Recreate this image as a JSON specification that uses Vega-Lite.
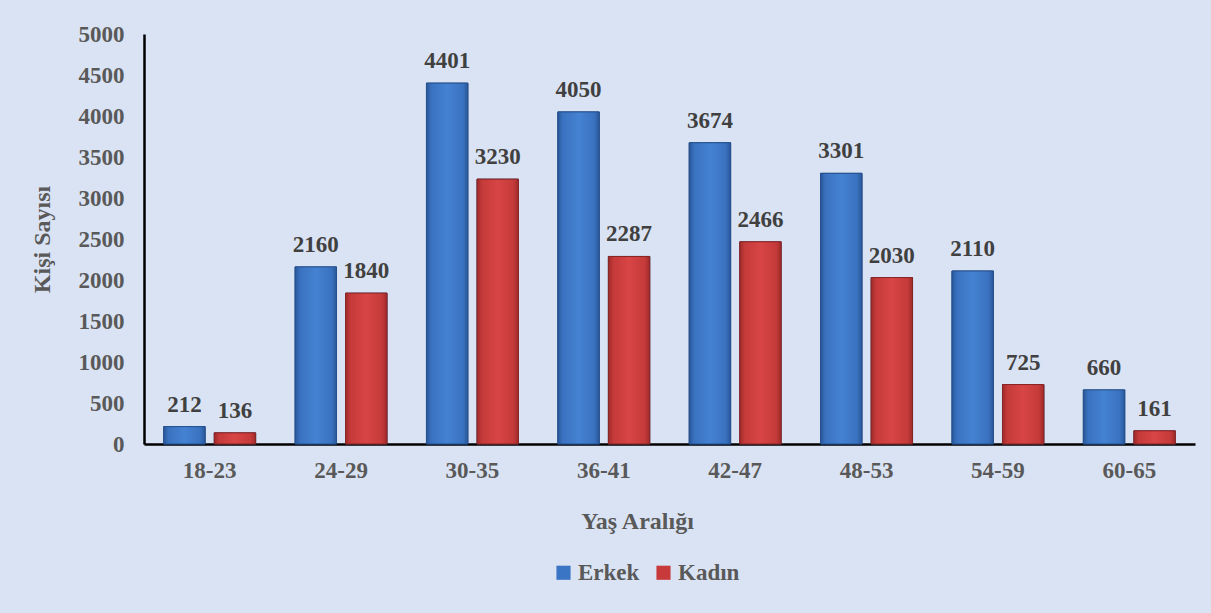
{
  "$schema": "https://vega.github.io/schema/vega-lite/v6.json",
  "autosize": "none",
  "width": 1051,
  "height": 410,
  "padding": {"left": 144, "top": 34, "right": 16, "bottom": 169},
  "background": "#dae3f3",
  "config": {
    "view": {"stroke": null},
    "font": "Liberation Serif"
  },
  "data": {
    "values": [
      {"yas": "18-23", "cinsiyet": "Erkek", "sayi": 212},
      {"yas": "18-23", "cinsiyet": "Kadın", "sayi": 136},
      {"yas": "24-29", "cinsiyet": "Erkek", "sayi": 2160},
      {"yas": "24-29", "cinsiyet": "Kadın", "sayi": 1840},
      {"yas": "30-35", "cinsiyet": "Erkek", "sayi": 4401},
      {"yas": "30-35", "cinsiyet": "Kadın", "sayi": 3230},
      {"yas": "36-41", "cinsiyet": "Erkek", "sayi": 4050},
      {"yas": "36-41", "cinsiyet": "Kadın", "sayi": 2287},
      {"yas": "42-47", "cinsiyet": "Erkek", "sayi": 3674},
      {"yas": "42-47", "cinsiyet": "Kadın", "sayi": 2466},
      {"yas": "48-53", "cinsiyet": "Erkek", "sayi": 3301},
      {"yas": "48-53", "cinsiyet": "Kadın", "sayi": 2030},
      {"yas": "54-59", "cinsiyet": "Erkek", "sayi": 2110},
      {"yas": "54-59", "cinsiyet": "Kadın", "sayi": 725},
      {"yas": "60-65", "cinsiyet": "Erkek", "sayi": 660},
      {"yas": "60-65", "cinsiyet": "Kadın", "sayi": 161}
    ]
  },
  "encoding": {
    "x": {
      "field": "yas", "type": "nominal", "sort": null,
      "scale": {"paddingInner": 0.3, "paddingOuter": 0.15},
      "axis": {
        "title": "Yaş Aralığı", "labelAngle": 0, "ticks": false,
        "domainColor": "#000000", "domainWidth": 2.5,
        "labelFont": "Liberation Serif", "labelFontSize": 23, "labelFontWeight": "bold", "labelColor": "#595959",
        "labelPadding": 15,
        "titleFont": "Liberation Serif", "titleFontSize": 24, "titleFontWeight": "bold", "titleColor": "#595959",
        "titlePadding": 27, "titleX": 493
      }
    },
    "xOffset": {"field": "cinsiyet", "type": "nominal", "sort": ["Erkek", "Kadın"], "scale": {"paddingInner": 0.18, "paddingOuter": 0}},
    "y": {
      "field": "sayi", "type": "quantitative",
      "scale": {"domain": [0, 5000], "nice": false},
      "axis": {
        "title": "Kişi Sayısı", "values": [0, 500, 1000, 1500, 2000, 2500, 3000, 3500, 4000, 4500, 5000],
        "grid": false, "ticks": false, "format": "d",
        "domainColor": "#000000", "domainWidth": 2.5,
        "labelFont": "Liberation Serif", "labelFontSize": 23, "labelFontWeight": "bold", "labelColor": "#595959",
        "labelPadding": 20,
        "titleFont": "Liberation Serif", "titleFontSize": 24, "titleFontWeight": "bold", "titleColor": "#595959",
        "titlePadding": 24
      }
    }
  },
  "layer": [
    {
      "mark": {"type": "bar", "stroke": "#1f3f70", "strokeWidth": 0.8},
      "encoding": {
        "color": {
          "field": "cinsiyet", "type": "nominal", "sort": ["Erkek", "Kadın"],
          "scale": {"domain": ["Erkek", "Kadın"], "range": ["#3a74c4", "#c83a3a"]},
          "legend": {
            "title": null, "orient": "none", "legendX": 408, "legendY": 527, "direction": "horizontal",
            "symbolType": "square", "symbolSize": 200, "symbolStrokeWidth": 0,
            "labelFont": "Liberation Serif", "labelFontSize": 23, "labelFontWeight": "bold", "labelColor": "#595959",
            "labelOffset": 3, "columnPadding": 12
          }
        }
      }
    },
    {
      "transform": [{"filter": "datum.cinsiyet === 'Erkek'"}],
      "mark": {
        "type": "bar", "stroke": "#23508f", "strokeWidth": 1,
        "fill": {"gradient": "linear", "x1": 0, "y1": 0, "x2": 1, "y2": 0,
          "stops": [
            {"offset": 0, "color": "#2a5799"},
            {"offset": 0.12, "color": "#3a72c0"},
            {"offset": 0.5, "color": "#4582d2"},
            {"offset": 0.88, "color": "#3a72c0"},
            {"offset": 1, "color": "#2a5799"}
          ]}
      }
    },
    {
      "transform": [{"filter": "datum.cinsiyet === 'Kadın'"}],
      "mark": {
        "type": "bar", "stroke": "#8a2424", "strokeWidth": 1,
        "fill": {"gradient": "linear", "x1": 0, "y1": 0, "x2": 1, "y2": 0,
          "stops": [
            {"offset": 0, "color": "#9e2a2a"},
            {"offset": 0.12, "color": "#c53a3a"},
            {"offset": 0.5, "color": "#d84545"},
            {"offset": 0.88, "color": "#c53a3a"},
            {"offset": 1, "color": "#9e2a2a"}
          ]}
      }
    },
    {
      "mark": {"type": "text", "baseline": "bottom", "dy": -10, "font": "Liberation Serif", "fontSize": 23, "fontWeight": "bold", "color": "#404040"},
      "encoding": {"text": {"field": "sayi", "type": "quantitative", "format": "d"}}
    }
  ]
}
